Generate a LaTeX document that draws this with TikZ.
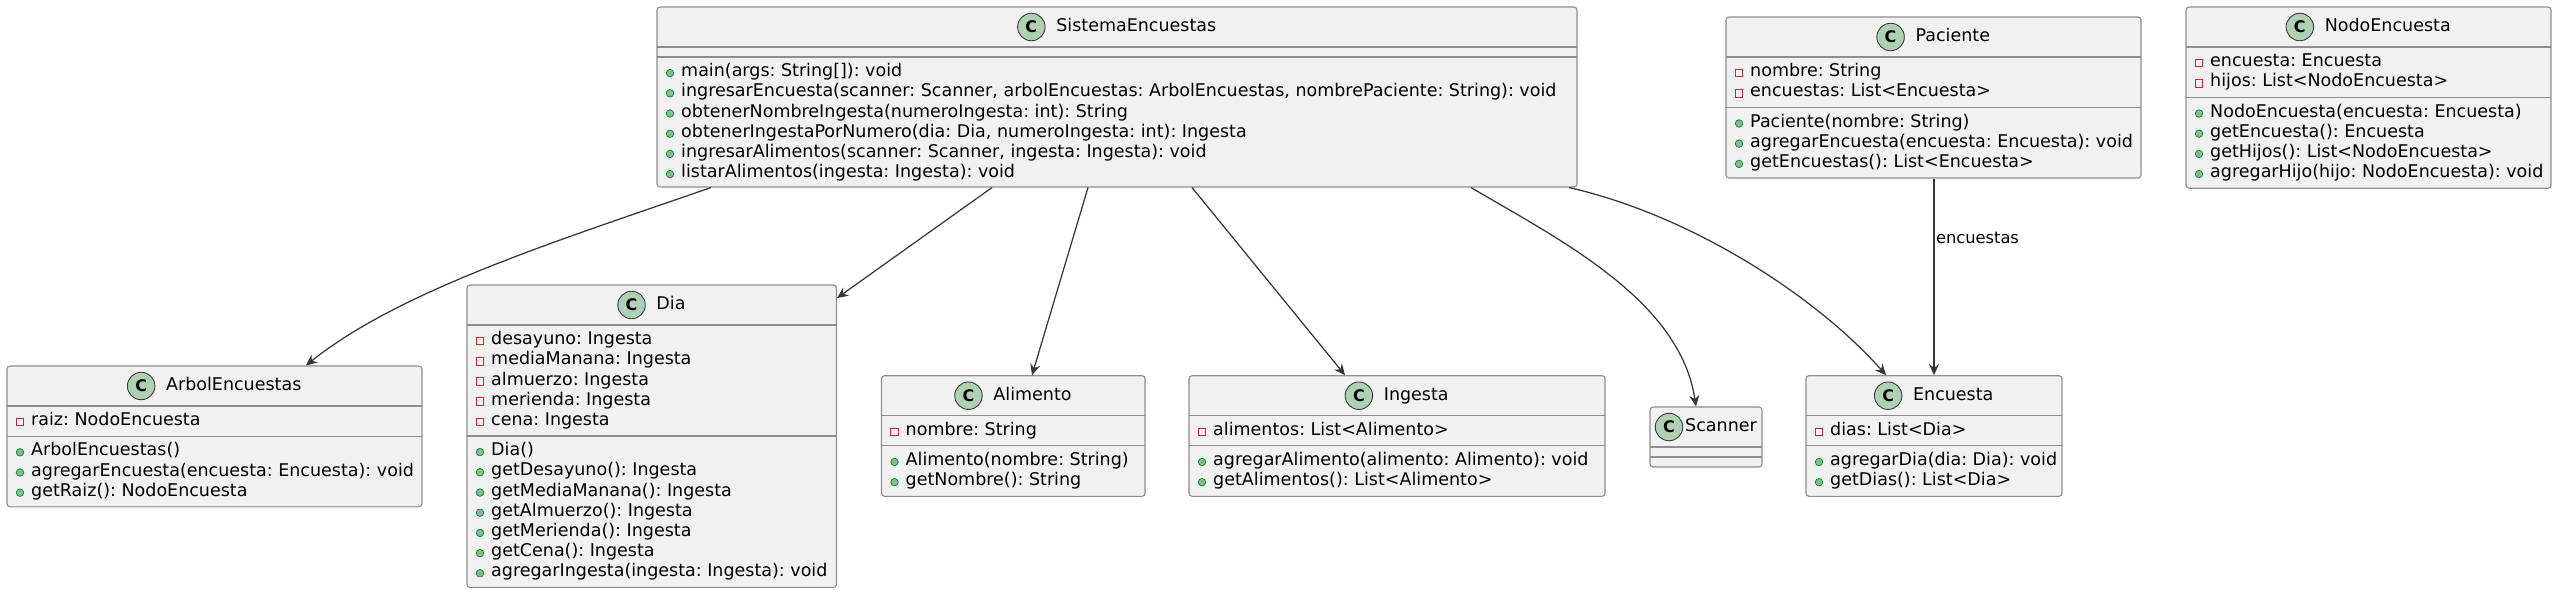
\documentclass[tikz,border=0pt]{standalone}
\usepackage{fontspec}
\setmainfont{DejaVu Sans}
\usetikzlibrary{arrows.meta,fit}
\frenchspacing
\definecolor{boxfill}{HTML}{F1F1F1}
\definecolor{boxline}{HTML}{8E8E8E}
\definecolor{spotfill}{HTML}{ADD1B2}
\definecolor{spotline}{HTML}{3A3A3A}
\definecolor{edgecol}{HTML}{383838}
\definecolor{pubfill}{HTML}{84BE84}
\definecolor{publine}{HTML}{038048}
\definecolor{privline}{HTML}{C82930}
\tikzset{
  classbox/.style={draw=boxline, fill=boxfill, line width=1.1pt, rounded corners=3pt, inner sep=0pt},
  sepline/.style={draw=boxline, line width=1.1pt},
  member/.style={anchor=west, inner sep=0pt, font=\fontsize{17.5}{20}\selectfont, text height=12pt, text depth=3pt},
  titletext/.style={inner sep=0pt, font=\fontsize{17.5}{20}\selectfont, text height=12pt, text depth=3pt},
  spot/.style={circle, draw=spotline, fill=spotfill, line width=0.9pt, minimum size=27.5pt, inner sep=0pt, font=\fontsize{16}{16}\bfseries\selectfont},
  pubicon/.style={fill=pubfill, draw=publine, line width=0.7pt},
  privicon/.style={draw=privline, line width=1pt},
  umledge/.style={draw=edgecol, line width=1.25pt, -{Stealth[length=11pt,width=10pt,inset=3.5pt]}},
  edgelabel/.style={font=\fontsize{16.25}{18}\selectfont, inner sep=1.5pt, anchor=west}
}
\newcommand\umltitle[4]{%
  \node[titletext] (#1-t) at (#2+19.25,#3) {#4};
  \node[spot] (#1-c) at ([xshift=-24.75pt]#1-t.west) {C};}
\newcommand\pubm[4]{%
  \path[pubicon] (#2+13,#3+1) circle (3.75);
  \node[member] (#1) at (#2+24,#3) {#4};}
\newcommand\privm[4]{%
  \path[privicon] (#2+9.25,#3-2.75) rectangle (#2+16.75,#3+4.75);
  \node[member] (#1) at (#2+24,#3) {#4};}
\begin{document}
\begin{tikzpicture}[x=1pt,y=-1pt]
\useasboundingbox (0,0) rectangle (2558,610);
\fill[white] (0,0) rectangle (2558,610);

% SistemaEncuestas
\node[classbox, fit={(657,7) (1577,187)}] (sis) {};
\umltitle{sis}{1117}{27}{SistemaEncuestas}
\draw[sepline] (657,47) -- (1577,47);
\draw[sepline] (657,57) -- (1577,57);
\pubm{sis-m1}{657}{72.1}{main(args: String[]): void}
\pubm{sis-m2}{657}{92.3}{ingresarEncuesta(scanner: Scanner, arbolEncuestas: ArbolEncuestas, nombrePaciente: String): void}
\pubm{sis-m3}{657}{112.5}{obtenerNombreIngesta(numeroIngesta: int): String}
\pubm{sis-m4}{657}{132.7}{obtenerIngestaPorNumero(dia: Dia, numeroIngesta: int): Ingesta}
\pubm{sis-m5}{657}{152.9}{ingresarAlimentos(scanner: Scanner, ingesta: Ingesta): void}
\pubm{sis-m6}{657}{173.1}{listarAlimentos(ingesta: Ingesta): void}

% Paciente
\node[classbox, fit={(1726,17) (2141,178)}] (pac) {};
\umltitle{pac}{1933.5}{37}{Paciente}
\draw[sepline] (1726,57) -- (2141,57);
\draw[sepline] (1726,107.4) -- (2141,107.4);
\privm{pac-a1}{1726}{72.1}{nombre: String}
\privm{pac-a2}{1726}{92.3}{encuestas: List<Encuesta>}
\pubm{pac-m1}{1726}{122.5}{Paciente(nombre: String)}
\pubm{pac-m2}{1726}{142.7}{agregarEncuesta(encuesta: Encuesta): void}
\pubm{pac-m3}{1726}{162.9}{getEncuestas(): List<Encuesta>}

% NodoEncuesta
\node[classbox, fit={(2186,7) (2551,188.2)}] (nodo) {};
\umltitle{nodo}{2368.5}{27}{NodoEncuesta}
\draw[sepline] (2186,47) -- (2551,47);
\draw[sepline] (2186,97.4) -- (2551,97.4);
\privm{nodo-a1}{2186}{62.1}{encuesta: Encuesta}
\privm{nodo-a2}{2186}{82.3}{hijos: List<NodoEncuesta>}
\pubm{nodo-m1}{2186}{112.5}{NodoEncuesta(encuesta: Encuesta)}
\pubm{nodo-m2}{2186}{132.7}{getEncuesta(): Encuesta}
\pubm{nodo-m3}{2186}{152.9}{getHijos(): List<NodoEncuesta>}
\pubm{nodo-m4}{2186}{173.1}{agregarHijo(hijo: NodoEncuesta): void}

% ArbolEncuestas
\node[classbox, fit={(7,366) (422,506.8)}] (arbol) {};
\umltitle{arbol}{214.5}{386}{ArbolEncuestas}
\draw[sepline] (7,406) -- (422,406);
\draw[sepline] (7,436.2) -- (422,436.2);
\privm{arbol-a1}{7}{421.1}{raiz: NodoEncuesta}
\pubm{arbol-m1}{7}{451.3}{ArbolEncuestas()}
\pubm{arbol-m2}{7}{471.5}{agregarEncuesta(encuesta: Encuesta): void}
\pubm{arbol-m3}{7}{491.7}{getRaiz(): NodoEncuesta}

% Dia
\node[classbox, fit={(467,285) (836.5,587.4)}] (dia) {};
\umltitle{dia}{651.75}{305}{Dia}
\draw[sepline] (467,325) -- (836.5,325);
\draw[sepline] (467,436) -- (836.5,436);
\privm{dia-a1}{467}{340.1}{desayuno: Ingesta}
\privm{dia-a2}{467}{360.3}{mediaManana: Ingesta}
\privm{dia-a3}{467}{380.5}{almuerzo: Ingesta}
\privm{dia-a4}{467}{400.7}{merienda: Ingesta}
\privm{dia-a5}{467}{420.9}{cena: Ingesta}
\pubm{dia-m1}{467}{451.1}{Dia()}
\pubm{dia-m2}{467}{471.3}{getDesayuno(): Ingesta}
\pubm{dia-m3}{467}{491.5}{getMediaManana(): Ingesta}
\pubm{dia-m4}{467}{511.7}{getAlmuerzo(): Ingesta}
\pubm{dia-m5}{467}{531.9}{getMerienda(): Ingesta}
\pubm{dia-m6}{467}{552.1}{getCena(): Ingesta}
\pubm{dia-m7}{467}{572.3}{agregarIngesta(ingesta: Ingesta): void}

% Alimento
\node[classbox, fit={(881.5,375.7) (1145,496.3)}] (ali) {};
\umltitle{ali}{1013.25}{395.7}{Alimento}
\draw[sepline] (881.5,415.7) -- (1145,415.7);
\draw[sepline] (881.5,445.9) -- (1145,445.9);
\privm{ali-a1}{881.5}{430.8}{nombre: String}
\pubm{ali-m1}{881.5}{461}{Alimento(nombre: String)}
\pubm{ali-m2}{881.5}{481.2}{getNombre(): String}

% Ingesta
\node[classbox, fit={(1189,375.7) (1605,496.3)}] (ing) {};
\umltitle{ing}{1397}{395.7}{Ingesta}
\draw[sepline] (1189,415.7) -- (1605,415.7);
\draw[sepline] (1189,445.9) -- (1605,445.9);
\privm{ing-a1}{1189}{430.8}{alimentos: List<Alimento>}
\pubm{ing-m1}{1189}{461}{agregarAlimento(alimento: Alimento): void}
\pubm{ing-m2}{1189}{481.2}{getAlimentos(): List<Alimento>}

% Scanner
\node[classbox, fit={(1650,407) (1762,467)}] (scan) {};
\node[titletext, anchor=west] (scan-t) at (1685,427) {Scanner};
\node[spot] (scan-c) at (1669,427) {C};
\draw[sepline] (1650,447) -- (1762,447);
\draw[sepline] (1650,457) -- (1762,457);

% Encuesta
\node[classbox, fit={(1806,375.7) (2062,496.3)}] (enc) {};
\umltitle{enc}{1934}{395.7}{Encuesta}
\draw[sepline] (1806,415.7) -- (2062,415.7);
\draw[sepline] (1806,445.9) -- (2062,445.9);
\privm{enc-a1}{1806}{430.8}{dias: List<Dia>}
\pubm{enc-m1}{1806}{461}{agregarDia(dia: Dia): void}
\pubm{enc-m2}{1806}{481.2}{getDias(): List<Dia>}

% Connectors
\draw[umledge] (711,0 |- sis.south) .. controls (560,240) and (400,290) .. (306,0 |- arbol.north);
\draw[umledge] (992,0 |- sis.south) -- (dia.east |- 0,298);
\draw[umledge] (1088,0 |- sis.south) -- (1032,0 |- ali.north);
\draw[umledge] (1192,0 |- sis.south) -- (1345,0 |- ing.north);
\draw[umledge] (1471,0 |- sis.south) .. controls (1560,240) and (1680,300) .. (1696,0 |- scan.north);
\draw[umledge] (1569,0 |- sis.south) .. controls (1690,215) and (1815,295) .. (1886,0 |- enc.north);
\draw[umledge] (1934,0 |- pac.south) -- node[edgelabel, pos=0.3] (lbl) {encuestas} (1934,0 |- enc.north);
\end{tikzpicture}
\end{document}
